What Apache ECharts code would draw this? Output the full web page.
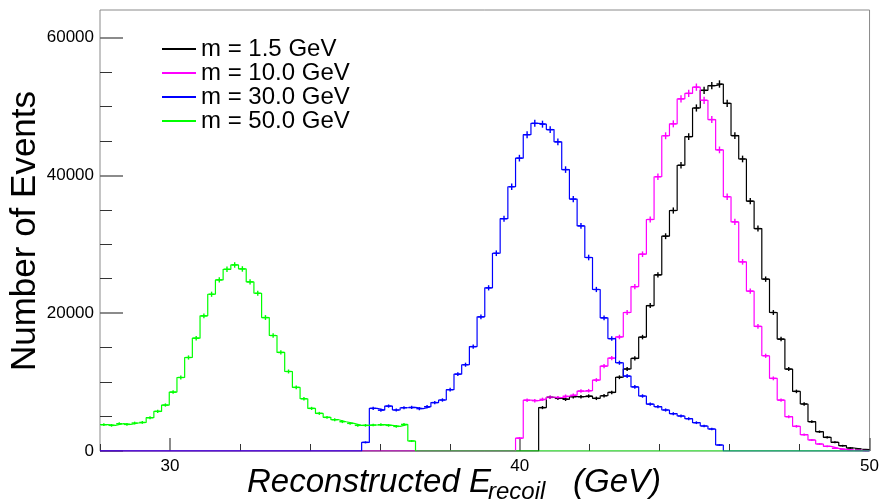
<!DOCTYPE html>
<html><head><meta charset="utf-8">
<script src="https://cdn.jsdelivr.net/npm/echarts/dist/echarts.min.js"></script>
<style>html,body{margin:0;padding:0;background:#fff;} #chart{width:882px;height:504px;}</style>
</head><body><div id="chart"></div>
<script>
// ---- data ----
const binLow = 28, binHigh = 50, nBins = 100;
const seriesNames = ['m = 1.5 GeV', 'm = 10.0 GeV', 'm = 30.0 GeV', 'm = 50.0 GeV'];
const seriesColors = ['#000000', '#ff00ff', '#0000ff', '#00ff00'];

const m1p5First = 57;
const m1p5Counts = [6300, 7780, 7640, 7500, 7880, 7880, 7970, 7640, 8020, 8500,
  10700, 11900, 13440, 16530, 21100, 25560, 31170, 34900, 41470, 45620,
  49780, 52340, 53020, 53260, 50450, 45770, 42380, 36250, 32280, 24940,
  20100, 16240, 11890, 8650, 6820, 4250, 2800, 1980, 1260, 770,
  435, 290, 190];

const m10First = 54;
const m10Counts = [1860, 7370, 7300, 7500, 7800, 7750, 7950, 8100, 8700, 8750,
  10300, 12320, 13480, 16550, 20100, 23850, 28560, 33600, 39800, 45750,
  47480, 51100, 51900, 52800, 50900, 48100, 43700, 36900, 33250, 27450,
  23200, 18080, 13820, 10540, 7390, 4980, 3580, 2370, 1600, 1015,
  680, 390, 240, 145, 97, 48];

const m30First = 34;
const m30Counts = [1250, 6190, 5920, 6520, 5950, 6280, 6330, 6140, 6430, 7030,
  7400, 8900, 11150, 12520, 15150, 19470, 23680, 28700, 33710, 38350,
  42500, 45900, 47550, 47430, 46640, 44870, 40840, 36560, 32670, 28080,
  23440, 19330, 16310, 12810, 10880, 9300, 7980, 6800, 6430, 5950,
  5410, 5080, 4690, 4110, 3630, 3190, 870];

const m50First = 0;
const m50Counts = [3820, 3720, 3960, 3860, 4060, 4150, 4830, 5750, 6670, 8550,
  10670, 13570, 16370, 19610, 22750, 24830, 26370, 27000, 26420, 24540,
  22890, 19370, 16760, 14300, 11540, 9230, 7580, 6180, 5460, 4880,
  4540, 4250, 4010, 3720, 3720, 3770, 3820, 3720, 3570, 3860,
  1450];

const errorScale = 2; // statistical error bars: errorScale * sqrt(N)

const xMajorTicks = [30, 40, 50];
const xMinorTicks = [28, 32, 34, 36, 38, 42, 44, 46, 48];
const yMajorTicks = [0, 20000, 40000, 60000];
const yMinorTicks = [5000, 10000, 15000, 25000, 30000, 35000, 45000, 50000, 55000];
const yMax = 64000;

// ---- build ----
const font = '"Liberation Sans", Arial, Helvetica, sans-serif';
const binW = (binHigh - binLow) / nBins;
function fullBins(first, vals) {
  const a = new Array(nBins).fill(0);
  vals.forEach((v, i) => { a[first + i] = v; });
  return a;
}
function stepPoints(counts) {
  const pts = counts.map((c, k) => [binLow + k * binW, c]);
  pts.push([binHigh, counts[nBins - 1]]);
  return pts;
}
function errPoints(counts) {
  const pts = [];
  counts.forEach((c, k) => { if (c > 0) pts.push([binLow + (k + 0.5) * binW, c, errorScale * Math.sqrt(c)]); });
  return pts;
}
const allCounts = [
  fullBins(m1p5First, m1p5Counts),
  fullBins(m10First, m10Counts),
  fullBins(m30First, m30Counts),
  fullBins(m50First, m50Counts)
];

const series = [];
allCounts.forEach((counts, i) => {
  const col = seriesColors[i];
  series.push({
    name: seriesNames[i], type: 'line', step: 'end', data: stepPoints(counts),
    symbol: 'none', showSymbol: false, color: col, silent: true,
    lineStyle: { color: col, width: 1.2 }, animation: false, z: 2
  });
  series.push({
    name: seriesNames[i] + ' err', type: 'custom', data: errPoints(counts), silent: true, animation: false, z: 2,
    encode: { x: 0, y: 1 },
    renderItem: function (params, api) {
      const x = api.value(0), v = api.value(1), e = api.value(2);
      const t = api.coord([x, v + e]), b = api.coord([x, v - e]), m = api.coord([x, v]);
      return { type: 'group', children: [
        { type: 'line', shape: { x1: t[0], y1: t[1] - 0.5, x2: b[0], y2: b[1] + 0.5 }, style: { stroke: col, lineWidth: 1.4 } },
        { type: 'line', shape: { x1: m[0] - 3, y1: m[1], x2: m[0] + 3, y2: m[1] }, style: { stroke: col, lineWidth: 1.4 } }
      ]};
    }
  });
});

const tickCol = '#666';
const plainNum = v => String(v);
const option = {
  backgroundColor: '#ffffff',
  animation: false,
  grid: { left: 100, right: 11, top: 10, bottom: 53, show: true, borderColor: '#8a8a8a', borderWidth: 1, containLabel: false },
  legend: {
    data: seriesNames, orient: 'vertical', left: 157, top: 32, itemWidth: 34, itemHeight: 2, itemGap: 0,
    icon: 'rect', selectedMode: false,
    textStyle: { fontSize: 24, lineHeight: 22, color: '#000', fontFamily: font }
  },
  xAxis: [
    { type: 'value', min: binLow, max: binHigh, position: 'bottom', axisLine: { show: false }, splitLine: { show: false },
      axisTick: { show: true, inside: true, length: 13, customValues: xMajorTicks, lineStyle: { color: tickCol, width: 1.5 } },
      axisLabel: { show: true, customValues: xMajorTicks, formatter: plainNum, fontSize: 17, color: '#000', fontFamily: font, margin: 7 } },
    { type: 'value', min: binLow, max: binHigh, position: 'bottom', axisLine: { show: false }, splitLine: { show: false },
      axisTick: { show: true, inside: true, length: 7, customValues: xMinorTicks, lineStyle: { color: '#333', width: 1 } },
      axisLabel: { show: false } }
  ],
  yAxis: [
    { type: 'value', min: 0, max: yMax, position: 'left', axisLine: { show: false }, splitLine: { show: false },
      axisTick: { show: true, inside: true, length: 23, customValues: yMajorTicks, lineStyle: { color: tickCol, width: 1.5 } },
      axisLabel: { show: true, customValues: yMajorTicks, formatter: plainNum, fontSize: 17, color: '#000', fontFamily: font, margin: 6 } },
    { type: 'value', min: 0, max: yMax, position: 'left', axisLine: { show: false }, splitLine: { show: false },
      axisTick: { show: true, inside: true, length: 12, customValues: yMinorTicks, lineStyle: { color: '#333', width: 1 } },
      axisLabel: { show: false } }
  ],
  graphic: [
    { type: 'text', x: 25, y: 231, rotation: Math.PI / 2, silent: true,
      style: { text: 'Number of Events', fontSize: 35, fontFamily: font, fill: '#000', align: 'center', verticalAlign: 'middle', textAlign: 'center', textVerticalAlign: 'middle' } },
    { type: 'text', x: 247, y: 483, silent: true,
      style: { text: 'Reconstructed E', fontSize: 33, fontStyle: 'italic', fontFamily: font, fill: '#000', align: 'left', verticalAlign: 'middle', textAlign: 'left', textVerticalAlign: 'middle' } },
    { type: 'text', x: 488, y: 492, silent: true,
      style: { text: 'recoil', fontSize: 24, fontStyle: 'italic', fontFamily: font, fill: '#000', align: 'left', verticalAlign: 'middle', textAlign: 'left', textVerticalAlign: 'middle' } },
    { type: 'text', x: 573, y: 483, silent: true,
      style: { text: '(GeV)', fontSize: 33, fontStyle: 'italic', fontFamily: font, fill: '#000', align: 'left', verticalAlign: 'middle', textAlign: 'left', textVerticalAlign: 'middle' } }
  ],
  series: series
};
const chart = echarts.init(document.getElementById('chart'), null, { renderer: 'canvas' });
chart.setOption(option);
</script></body></html>
